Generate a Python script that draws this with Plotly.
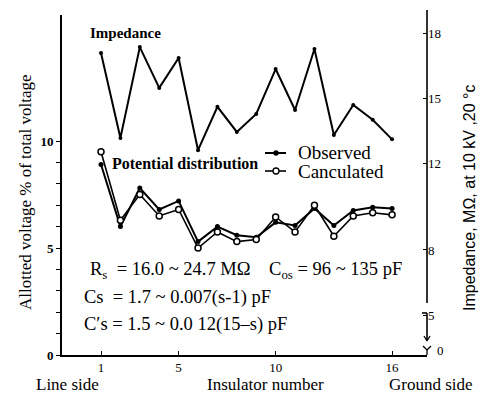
import plotly.graph_objects as go

# ---- data ----
insulator = list(range(1, 17))
impedance = [17.08, 13.16, 17.35, 15.47, 16.85, 12.6, 14.6, 13.44,
             14.27, 16.34, 14.45, 17.26, 13.3, 14.68, 14.0, 13.1]
observed = [8.9, 6.0, 7.8, 6.8, 7.2, 5.3, 6.0, 5.6,
            5.5, 6.2, 6.05, 6.85, 6.05, 6.75, 6.9, 6.85]
calculated = [9.5, 6.3, 7.5, 6.5, 6.8, 5.0, 5.75, 5.3,
              5.4, 6.45, 5.75, 7.0, 5.55, 6.5, 6.65, 6.55]
x_ticks = [1, 5, 10, 16]
left_ticks = [0, 5, 10]
right_ticks = [5, 8, 12, 15, 18]
legend_names = ["Observed", "Canculated"]

SERIF = "Liberation Serif"
SANS = "Liberation Sans"
W, H = 482, 393
L, R, T, B = 62, 55, 15, 38
PW, PH = W - L - R, H - T - B


def px(x):
    return (x - L) / PW


def py(y):
    return (H - B - y) / PH


fig = go.Figure()
fig.add_trace(go.Scatter(
    x=insulator, y=impedance, yaxis="y2", mode="lines+markers",
    line=dict(color="black", width=2), marker=dict(size=4, color="black"),
    showlegend=False))
fig.add_trace(go.Scatter(
    x=insulator, y=observed, mode="lines+markers", name=legend_names[0],
    line=dict(color="black", width=2), marker=dict(size=5, color="black"),
    showlegend=False))
fig.add_trace(go.Scatter(
    x=insulator, y=calculated, mode="lines+markers", name=legend_names[1],
    line=dict(color="black", width=1.6),
    marker=dict(size=6, color="white", line=dict(color="black", width=1.5)),
    showlegend=False))

shapes = []


def seg(x0, y0, x1, y1, w=1.6):
    shapes.append(dict(type="line", xref="paper", yref="paper",
                       x0=px(x0), y0=py(y0), x1=px(x1), y1=py(y1),
                       line=dict(color="black", width=w)))


def dot(cx, cy, r, fill):
    shapes.append(dict(type="circle", xref="paper", yref="paper",
                       x0=px(cx - r), x1=px(cx + r), y0=py(cy + r), y1=py(cy - r),
                       fillcolor=fill, line=dict(color="black", width=1.3)))


# right axis with break
seg(427, 10, 427, 303)
seg(422, 313, 427, 313)
seg(427, 313, 427, 340)
seg(424, 336, 427, 341, 1.3)
seg(430, 336, 427, 341, 1.3)
seg(423, 346, 427, 350, 1.3)
seg(431, 346, 427, 350, 1.3)
seg(427, 350, 427, 355, 1.3)

# hand-drawn legend glyphs
seg(265, 153, 286, 153, 2)
dot(276, 153, 2, "black")
seg(265, 171, 286, 171, 1.6)
dot(276, 171, 3, "white")

ann = []


def text(x, y, s, size=14, font=SERIF, angle=0, bold=False, xanchor="center"):
    ann.append(dict(xref="paper", yref="paper", x=px(x), y=py(y), text=s,
                    showarrow=False, textangle=angle, xanchor=xanchor,
                    yanchor="middle",
                    font=dict(family=font, size=size, color="#000000",
                              weight="bold" if bold else "normal")))


text(26, 192, "Allotted voltage % of total voltage", size=17, angle=-90)
text(469, 198, "Impedance, MΩ, at 10 kV ,20 °c", size=16, font=SANS, angle=-90)
text(88, 33, "Impedance", size=15, bold=True, xanchor="left")
text(110, 163, "Potential distribution", size=16, bold=True, xanchor="left")
text(296, 152, legend_names[0], size=19, xanchor="left")
text(296, 171, legend_names[1], size=19, xanchor="left")
text(88, 270, "R<sub>s</sub>  = 16.0 ~ 24.7 MΩ    C<sub>os</sub> = 96 ~ 135 pF",
     size=18.5, xanchor="left")
text(82, 297, "Cs  = 1.7 ~ 0.007(s-1) pF", size=18.5, xanchor="left")
text(82, 324, "C′s = 1.5 ~ 0.0 12(15–s) pF", size=18.5, xanchor="left")
text(67, 385, "Line side", size=17)
text(265, 385, "Insulator number", size=17)
text(431, 385, "Ground side", size=17)
text(440, 350, "0", size=13)

fig.update_layout(
    width=W, height=H,
    margin=dict(l=L, r=R, t=T, b=B),
    paper_bgcolor="white", plot_bgcolor="white",
    font=dict(family=SERIF, size=13, color="black"),
    shapes=shapes, annotations=ann, showlegend=False,
    xaxis=dict(range=[-1.01, 17.80], tickvals=x_ticks, ticks="inside",
               ticklen=4, tickcolor="black", showgrid=False, zeroline=False,
               showline=True, linecolor="black", linewidth=1.6,
               tickfont=dict(family=SERIF, size=13)),
    yaxis=dict(range=[0, 15.89], tickvals=left_ticks, ticks="outside",
               ticklen=4, tickcolor="black", showgrid=False, zeroline=False,
               showline=True, linecolor="black", linewidth=1.6,
               tickfont=dict(family=SERIF, size=13, weight="bold"),
               minor=dict(tickvals=list(range(0, 11)), ticks="outside",
                          ticklen=4, tickcolor="black")),
    yaxis2=dict(range=[3.16, 18.83], overlaying="y", side="right",
                tickvals=right_ticks, ticks="inside", ticklen=4,
                tickcolor="black", showgrid=False, zeroline=False,
                showline=False, tickfont=dict(family=SERIF, size=13)),
)

fig.write_html("out.html", config={"displayModeBar": False},
               post_script="document.body.style.margin='0';"
                           "document.body.style.overflow='hidden';")
